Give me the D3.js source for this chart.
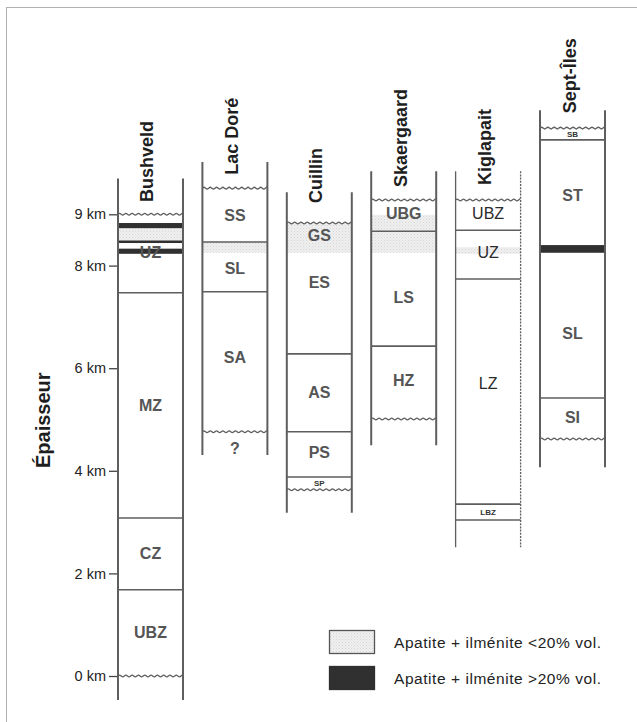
<!DOCTYPE html>
<html><head><meta charset="utf-8">
<script src="https://cdn.jsdelivr.net/npm/d3@7"></script>
<style>
html,body{margin:0;padding:0;background:#fff;}
svg{display:block;font-family:"Liberation Sans",Arial,sans-serif;}
</style></head>
<body>
<svg id="chart" width="637" height="722"></svg>
<script>
// ---------- data (km) ----------
const columns = ["Bushveld", "Lac Doré", "Cuillin", "Skaergaard", "Kiglapait", "Sept-Îles"];
const columnTop = [9.70, 10.02, 9.43, 9.84, 9.84, 11.03];
const columnBottom = [-0.47, 4.31, 3.18, 4.50, 2.51, 4.07];
const titleStart = [9.24, 9.77, 9.22, 9.53, 9.57, 10.97];

const tickValues = [0, 2, 4, 6, 8, 9];
const tickLabels = ["0 km", "2 km", "4 km", "6 km", "8 km", "9 km"];
const axisTitle = "Épaisseur";

// solid contacts between zones
const contacts = [
  ["Bushveld", 7.47], ["Bushveld", 3.08], ["Bushveld", 1.68],
  ["Lac Doré", 8.46], ["Lac Doré", 7.49],
  ["Cuillin", 6.28], ["Cuillin", 4.76], ["Cuillin", 3.88],
  ["Skaergaard", 8.67], ["Skaergaard", 6.43],
  ["Kiglapait", 8.69], ["Kiglapait", 7.74], ["Kiglapait", 3.35], ["Kiglapait", 3.04],
  ["Sept-Îles", 10.45], ["Sept-Îles", 5.42]
];
// wavy (intrusive / erosional) limits
const wavyLimits = [
  ["Bushveld", 9.0], ["Bushveld", 0.0],
  ["Lac Doré", 9.51], ["Lac Doré", 4.76],
  ["Cuillin", 8.83], ["Cuillin", 3.63],
  ["Skaergaard", 9.28], ["Skaergaard", 5.01],
  ["Kiglapait", 9.28],
  ["Sept-Îles", 10.68], ["Sept-Îles", 4.62]
];
// zone labels
const zones = [
  ["Bushveld", "UBZ", 0.86], ["Bushveld", "CZ", 2.40], ["Bushveld", "MZ", 5.28], ["Bushveld", "UZ", 8.27],
  ["Lac Doré", "SS", 8.99], ["Lac Doré", "SL", 7.95], ["Lac Doré", "SA", 6.22], ["Lac Doré", "?", 4.44],
  ["Cuillin", "GS", 8.60], ["Cuillin", "ES", 7.68], ["Cuillin", "AS", 5.54], ["Cuillin", "PS", 4.37],
  ["Skaergaard", "UBG", 9.03], ["Skaergaard", "LS", 7.39], ["Skaergaard", "HZ", 5.77],
  ["Kiglapait", "UBZ", 9.03], ["Kiglapait", "UZ", 8.27], ["Kiglapait", "LZ", 5.71],
  ["Sept-Îles", "ST", 9.38], ["Sept-Îles", "SL", 6.69], ["Sept-Îles", "SI", 5.05]
];
const minorZones = [
  ["Cuillin", "SP", 3.76], ["Kiglapait", "LBZ", 3.20], ["Sept-Îles", "SB", 10.57]
];
// apatite + ilmenite horizons [column, top, bottom]
const lowOxide = [
  ["Bushveld", 8.73, 8.50],
  ["Lac Doré", 8.46, 8.25],
  ["Cuillin", 8.83, 8.25],
  ["Skaergaard", 8.99, 8.25],
  ["Kiglapait", 8.36, 8.23]
];
const highOxide = [
  ["Bushveld", 8.83, 8.73], ["Bushveld", 8.49, 8.44], ["Bushveld", 8.33, 8.23],
  ["Sept-Îles", 8.40, 8.25]
];
const legendLabels = ["Apatite + ilménite <20% vol.", "Apatite + ilménite >20% vol."];

// ---------- drawing ----------
const svg = d3.select("#chart");
const defs = svg.append("defs");
const pat = defs.append("pattern").attr("id", "stipple")
  .attr("width", 3).attr("height", 3).attr("patternUnits", "userSpaceOnUse");
pat.append("rect").attr("width", 3).attr("height", 3).attr("fill", "#efefef");
pat.append("rect").attr("width", 1).attr("height", 1).attr("fill", "#d6d6d6");
pat.append("rect").attr("x", 1.5).attr("y", 1.5).attr("width", 1).attr("height", 1).attr("fill", "#e2e2e2");

const darkFill = "#303030";
const lineCol = "#5e5e5e";

// frame
svg.append("rect").attr("x", 6.5).attr("y", 7.5).attr("width", 700).attr("height", 800)
  .attr("fill", "none").attr("stroke", "#b0b0b0").attr("stroke-width", 1);

const x = d3.scaleBand().domain(columns).range([118, 605]).paddingInner(0.23).paddingOuter(0);
const y = d3.scaleLinear().domain([0, 9]).range([676, 214.3]);
const bw = x.bandwidth();

// bands
svg.append("g").selectAll("rect").data(lowOxide).join("rect")
  .attr("x", d => x(d[0])).attr("width", bw)
  .attr("y", d => y(d[1])).attr("height", d => y(d[2]) - y(d[1]))
  .attr("fill", "url(#stipple)");
svg.append("g").selectAll("rect").data(highOxide).join("rect")
  .attr("x", d => x(d[0])).attr("width", bw)
  .attr("y", d => y(d[1])).attr("height", d => y(d[2]) - y(d[1]))
  .attr("fill", darkFill);

// contacts
svg.append("g").selectAll("line").data(contacts).join("line")
  .attr("x1", d => x(d[0])).attr("x2", d => x(d[0]) + bw)
  .attr("y1", d => y(d[1])).attr("y2", d => y(d[1]))
  .attr("stroke", lineCol).attr("stroke-width", 1.6);

// wavy lines
const waveLine = d3.line().curve(d3.curveBasis);
function wavePts(x0, x1, yy) {
  const pts = [];
  const P = 6.3, A = 1.3;
  for (let xx = x0; xx <= x1 + 0.01; xx += P / 4) {
    const k = Math.round((xx - x0) / (P / 4)) % 4;
    const off = [0, -A, 0, A][k];
    pts.push([xx, yy + off]);
  }
  return pts;
}
svg.append("g").selectAll("path").data(wavyLimits).join("path")
  .attr("d", d => waveLine(wavePts(x(d[0]), x(d[0]) + bw, y(d[1]))))
  .attr("fill", "none").attr("stroke", lineCol).attr("stroke-width", 1.3);

// column verticals
const colG = svg.append("g");
columns.forEach((c, i) => {
  const y0 = y(columnTop[i]), y1 = y(columnBottom[i]);
  colG.append("line").attr("x1", x(c)).attr("x2", x(c)).attr("y1", y0).attr("y2", y1)
    .attr("stroke", lineCol).attr("stroke-width", c === "Kiglapait" ? 1.3 : 2);
  colG.append("line").attr("x1", x(c) + bw).attr("x2", x(c) + bw).attr("y1", y0).attr("y2", y1)
    .attr("stroke", lineCol).attr("stroke-width", c === "Kiglapait" ? 1.3 : 2)
    .attr("stroke-dasharray", c === "Kiglapait" ? "2,1.2" : null);
});

// column titles
svg.append("g").selectAll("text").data(columns).join("text")
  .attr("transform", (d, i) => `translate(${x(d) + bw / 2 + 3},${y(titleStart[i])}) rotate(-90)`)
  .attr("text-anchor", "start")
  .attr("font-size", 18).attr("font-weight", "bold").attr("fill", "#1e1e1e")
  .text(d => d);

// zone labels
svg.append("g").selectAll("text").data(zones).join("text")
  .attr("x", d => x(d[0]) + bw / 2).attr("y", d => y(d[2]))
  .attr("dy", "0.36em").attr("text-anchor", "middle")
  .attr("font-size", 16)
  .attr("font-weight", d => d[0] === "Kiglapait" ? "normal" : "bold")
  .attr("fill", d => d[0] === "Kiglapait" ? "#2a2a2a" : "#555")
  .text(d => d[1]);
svg.append("g").selectAll("text").data(minorZones).join("text")
  .attr("x", d => x(d[0]) + bw / 2).attr("y", d => y(d[2]))
  .attr("dy", "0.36em").attr("text-anchor", "middle")
  .attr("font-size", 8).attr("font-weight", "bold").attr("fill", "#333")
  .text(d => d[1]);

// y axis
const axis = d3.axisLeft(y).tickValues(tickValues)
  .tickFormat((d, i) => tickLabels[i]).tickSize(8).tickPadding(3);
const ag = svg.append("g").attr("transform", "translate(117,0)").call(axis);
ag.select(".domain").remove();
ag.selectAll(".tick line").attr("stroke", "#444").attr("stroke-width", 1.3);
ag.selectAll(".tick text").attr("font-size", 14.5).attr("fill", "#222")
  .attr("font-family", "Liberation Sans, Arial, sans-serif");

svg.append("text")
  .attr("transform", `translate(50,468) rotate(-90)`)
  .attr("text-anchor", "start").attr("font-size", 20).attr("font-weight", "bold").attr("fill", "#1e1e1e")
  .text(axisTitle);

// legend
const lg = svg.append("g");
legendLabels.forEach((t, i) => {
  const yy = 630 + i * 36;
  lg.append("rect").attr("x", 329.5).attr("y", yy + 0.5).attr("width", 45).attr("height", 23)
    .attr("fill", i === 0 ? "url(#stipple)" : darkFill)
    .attr("stroke", i === 0 ? "#555" : darkFill).attr("stroke-width", 1.3);
  lg.append("text").attr("x", 394).attr("y", yy + 12).attr("dy", "0.36em")
    .attr("font-size", 15.5).attr("letter-spacing", 0.55).attr("fill", "#222").text(t);
});
</script>
</body></html>
